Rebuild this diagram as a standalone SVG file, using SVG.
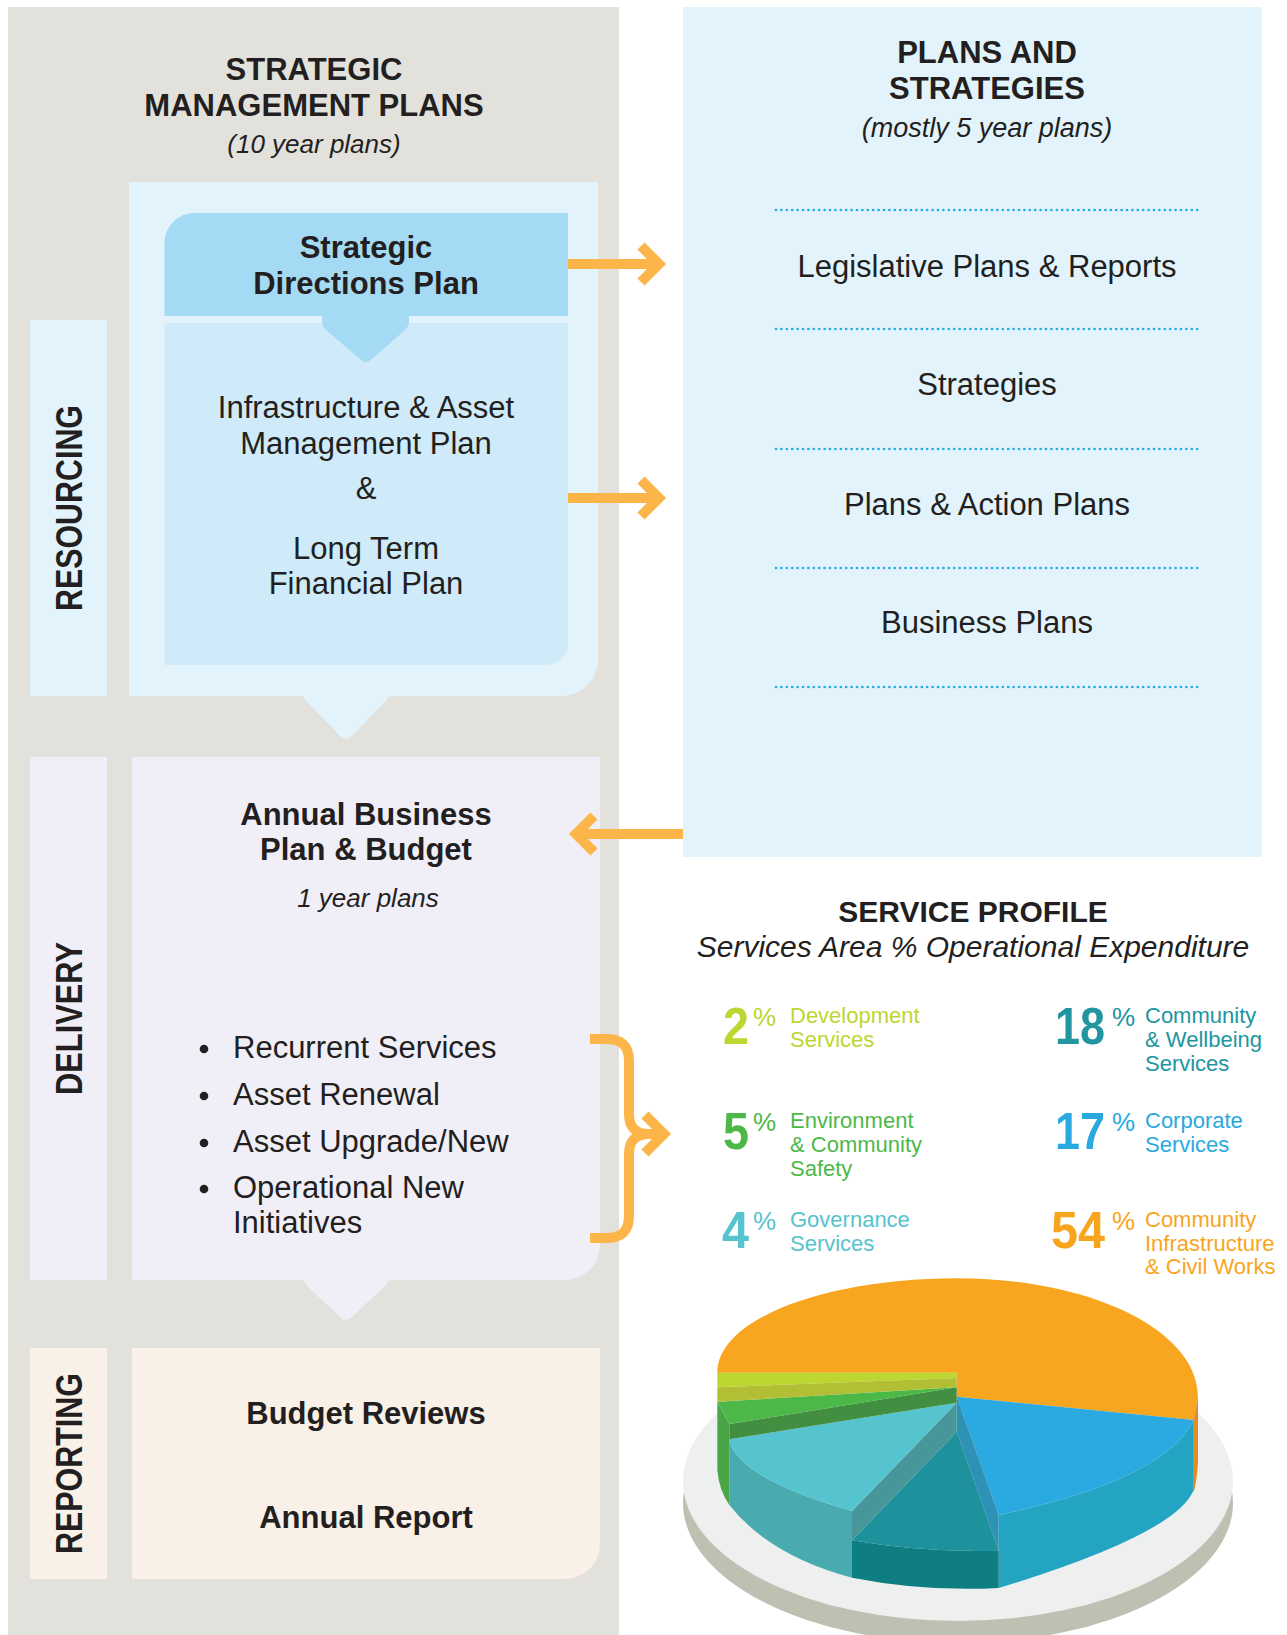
<svg xmlns="http://www.w3.org/2000/svg" width="1287" height="1635" viewBox="0 0 1287 1635">
<style>
.t{font-family:"Liberation Sans",Arial,sans-serif;fill:#231F20}
.b{font-weight:bold}
.i{font-style:italic}
.c{text-anchor:middle}
.h{font-size:31px}
.r{font-size:31px}
.s{font-size:26px}
.side{font-size:36px;font-weight:bold;text-anchor:middle}
.arrow{fill:none;stroke:#FBB548;stroke-width:10}
.chev{fill:none;stroke:#FBB548;stroke-width:10;stroke-linejoin:miter}
.dot{stroke:#1AACE4;stroke-width:2.6;stroke-linecap:round;stroke-dasharray:0 5.4}
.num{font-family:"Liberation Sans",Arial,sans-serif;font-weight:bold;font-size:52px}
.pc{font-family:"Liberation Sans",Arial,sans-serif;font-size:26px}
.lb{font-family:"Liberation Sans",Arial,sans-serif;font-size:22px}
</style>
<rect width="1287" height="1635" fill="#FFFFFF"/>

<g id="panel-strategic-management-plans">
<rect x="8" y="7" width="611" height="1628" fill="#E2E1DB"/>
<text class="t b c h" x="314" y="80">STRATEGIC</text>
<text class="t b c h" x="314" y="116">MANAGEMENT PLANS</text>
<text class="t i c s" x="314" y="153">(10 year plans)</text>
</g>

<g id="node-resourcing-label">
<rect x="30" y="320" width="77" height="376" fill="#E2F3FB"/>
<text class="t side" transform="translate(81.5,508) rotate(-90)" textLength="206" lengthAdjust="spacingAndGlyphs">RESOURCING</text>
</g>

<g id="node-resourcing">
<path d="M129,182 H598 V660 A36,36 0 0 1 562,696 H129 Z" fill="#E2F3FB"/>
<path d="M300,696 C304,696 305,699 307,702 L340,736 Q346,742 352,736 L385,702 C387,699 388,696 392,696 Z" fill="#E2F3FB"/>
</g>

<g id="node-ltfp">
<path d="M164.5,323 H568 V643 A22,22 0 0 1 546,665 H164.5 Z" fill="#CFEAF8"/>
<text class="t c r" x="366" y="418">Infrastructure &amp; Asset</text>
<text class="t c r" x="366" y="454">Management Plan</text>
<text class="t c r" x="366" y="499">&amp;</text>
<text class="t c r" x="366" y="559">Long Term</text>
<text class="t c r" x="366" y="594">Financial Plan</text>
</g>

<g id="node-strategic-directions-plan">
<path d="M164.5,316 V243 A30,30 0 0 1 194.5,213 H568 V316 Z" fill="#A4DAF4"/>
<path d="M322,316 V321 Q322,326 326,330 L360,359 Q366,365 372,359 L405,330 Q409,326 409,321 V316 Z" fill="#A4DAF4"/>
<text class="t b c h" x="366" y="258">Strategic</text>
<text class="t b c h" x="366" y="294">Directions Plan</text>
</g>

<g id="node-delivery-label">
<rect x="30" y="757" width="77" height="523" fill="#F0EEF6"/>
<text class="t side" transform="translate(81.5,1018.5) rotate(-90)" textLength="153" lengthAdjust="spacingAndGlyphs">DELIVERY</text>
</g>

<g id="node-annual-business-plan">
<path d="M132,757 H600 V1245 A35,35 0 0 1 565,1280 H132 Z" fill="#F0EEF6"/>
<path d="M300,1280 C304,1280 305,1283 307,1286 L340,1317 Q346,1323 352,1317 L385,1286 C387,1283 388,1280 392,1280 Z" fill="#F0EEF6"/>
<text class="t b c h" x="366" y="825">Annual Business</text>
<text class="t b c h" x="366" y="860">Plan &amp; Budget</text>
<text class="t i c s" x="368" y="907">1 year plans</text>
<g fill="#231F20">
<circle cx="204" cy="1049" r="4.3"/>
<circle cx="204" cy="1096" r="4.3"/>
<circle cx="204" cy="1143" r="4.3"/>
<circle cx="204" cy="1189" r="4.3"/>
</g>
<text class="t r" x="233" y="1058">Recurrent Services</text>
<text class="t r" x="233" y="1105">Asset Renewal</text>
<text class="t r" x="233" y="1152">Asset Upgrade/New</text>
<text class="t r" x="233" y="1198">Operational New</text>
<text class="t r" x="233" y="1233">Initiatives</text>
</g>

<g id="node-reporting-label">
<rect x="30" y="1348" width="77" height="231" fill="#F9F0E7"/>
<text class="t side" transform="translate(81.5,1463.5) rotate(-90)" textLength="181" lengthAdjust="spacingAndGlyphs">REPORTING</text>
</g>

<g id="node-reporting">
<path d="M132,1348 H600 V1544 A35,35 0 0 1 565,1579 H132 Z" fill="#F9F0E7"/>
<text class="t b c h" x="366" y="1424">Budget Reviews</text>
<text class="t b c h" x="366" y="1528">Annual Report</text>
</g>

<g id="node-plans-and-strategies">
<rect x="683" y="7" width="579" height="850" fill="#E2F3FB"/>
<text class="t b c h" x="987" y="63">PLANS AND</text>
<text class="t b c h" x="987" y="99">STRATEGIES</text>
<text class="t i c" x="987" y="137" style="font-size:27px">(mostly 5 year plans)</text>
<line class="dot" x1="776" y1="210" x2="1201" y2="210"/>
<line class="dot" x1="776" y1="329" x2="1201" y2="329"/>
<line class="dot" x1="776" y1="449" x2="1201" y2="449"/>
<line class="dot" x1="776" y1="568" x2="1201" y2="568"/>
<line class="dot" x1="776" y1="687" x2="1201" y2="687"/>
<text class="t c r" x="987" y="277">Legislative Plans &amp; Reports</text>
<text class="t c r" x="987" y="395">Strategies</text>
<text class="t c r" x="987" y="515">Plans &amp; Action Plans</text>
<text class="t c r" x="987" y="633">Business Plans</text>
</g>

<g id="node-service-profile">
<text class="t b c" x="973" y="922" style="font-size:30px">SERVICE PROFILE</text>
<text class="t i c" x="973" y="957" style="font-size:30px">Services Area % Operational Expenditure</text>
<g fill="#BDD631">
<text class="num" x="723" y="1044" textLength="26" lengthAdjust="spacingAndGlyphs">2</text>
<text class="pc" x="753" y="1026">%</text>
<text class="lb" x="790" y="1023">Development</text>
<text class="lb" x="790" y="1047">Services</text>
</g>
<g fill="#4DB848">
<text class="num" x="723" y="1149" textLength="26" lengthAdjust="spacingAndGlyphs">5</text>
<text class="pc" x="753" y="1131">%</text>
<text class="lb" x="790" y="1128">Environment</text>
<text class="lb" x="790" y="1152">&amp; Community</text>
<text class="lb" x="790" y="1176">Safety</text>
</g>
<g fill="#56C3CE">
<text class="num" x="722" y="1248" textLength="27" lengthAdjust="spacingAndGlyphs">4</text>
<text class="pc" x="753" y="1230">%</text>
<text class="lb" x="790" y="1227">Governance</text>
<text class="lb" x="790" y="1251">Services</text>
</g>
<g fill="#2196A0">
<text class="num" x="1055" y="1044" textLength="50" lengthAdjust="spacingAndGlyphs">18</text>
<text class="pc" x="1112" y="1026">%</text>
<text class="lb" x="1145" y="1023">Community</text>
<text class="lb" x="1145" y="1047">&amp; Wellbeing</text>
<text class="lb" x="1145" y="1071">Services</text>
</g>
<g fill="#29A9E0">
<text class="num" x="1055" y="1149" textLength="50" lengthAdjust="spacingAndGlyphs">17</text>
<text class="pc" x="1112" y="1131">%</text>
<text class="lb" x="1145" y="1128">Corporate</text>
<text class="lb" x="1145" y="1152">Services</text>
</g>
<g fill="#F8A51E">
<text class="num" x="1051" y="1248" textLength="54" lengthAdjust="spacingAndGlyphs">54</text>
<text class="pc" x="1112" y="1230">%</text>
<text class="lb" x="1145" y="1227">Community</text>
<text class="lb" x="1145" y="1251">Infrastructure</text>
<text class="lb" x="1145" y="1274">&amp; Civil Works</text>
</g>
</g>

<g id="pie-chart">
<ellipse cx="958" cy="1503" rx="275" ry="140" fill="#BFC0B2"/>
<ellipse cx="958" cy="1481" rx="275" ry="140" fill="#EEF0EF"/>
<path d="M717.3,1372.7 C717.3,1318 828,1278.3 957,1278.3 C1090,1278.3 1198,1330 1198,1397 L1193.7,1420 L956.7,1396.7 L956.7,1372.7 Z" fill="#F8A61F"/>
<path d="M1193.7,1420 L1198,1397 L1198,1462 Q1197,1480 1193.7,1493 Z" fill="#DE8E28"/>
<path d="M1193.7,1420 L1193.7,1490 Q1176,1534 998.7,1588 L998.7,1515 Q1165,1480 1193.7,1420 Z" fill="#23A4C2"/>
<path d="M956.7,1396.7 L1193.7,1420 Q1165,1480 998.7,1515 Z" fill="#2BA9E1"/>
<path d="M956.7,1396.7 L998.7,1515 L998.7,1550.7 L956.7,1431.7 Z" fill="#2E92B6"/>
<path d="M852,1540.3 L852,1577.7 Q925,1592 998.7,1588 L998.7,1550.7 Q925,1553 852,1540.3 Z" fill="#0E7E82"/>
<path d="M956.7,1431.7 L852,1540.3 Q925,1553 998.7,1550.7 Z" fill="#1D919C"/>
<path d="M956.7,1402.7 L852,1511 L852,1540.3 L956.7,1431.7 Z" fill="#47979A"/>
<path d="M729.3,1439.3 L729.3,1505 Q770,1556 852,1577.7 L852,1511 Q737,1478 729.3,1439.3 Z" fill="#49AAAF"/>
<path d="M956.7,1402.7 L729.3,1439.3 Q737,1478 852,1511 Z" fill="#56C4CE"/>
<path d="M717.3,1401.7 L729.3,1424 L729.3,1505 Q719,1490 717.3,1470 Z" fill="#4AA547"/>
<path d="M729.3,1424 L956.7,1387.3 L956.7,1402.7 L729.3,1439.3 Z" fill="#438F42"/>
<path d="M717.3,1401.7 L956.7,1387.3 L729.3,1424 Z" fill="#4BB848"/>
<path d="M717.3,1387.3 L956.7,1378 L956.7,1387.3 L717.3,1401.7 Z" fill="#B2BF35"/>
<path d="M717.3,1372.7 L956.7,1372.7 L956.7,1378 L717.3,1387.3 Z" fill="#BDD631"/>
</g>

<g id="connectors">
<line class="arrow" x1="568" y1="264" x2="656" y2="264"/>
<polyline class="chev" points="641,246 659,264 641,282"/>
<line class="arrow" x1="568" y1="498" x2="656" y2="498"/>
<polyline class="chev" points="641,480 659,498 641,516"/>
<line class="arrow" x1="683" y1="834" x2="580" y2="834"/>
<polyline class="chev" points="594,816 576,834 594,852"/>
<path class="arrow" d="M590,1039 H607 Q629,1039 629,1061 V1114 Q629,1134 649,1134 H660 M590,1238 H607 Q629,1238 629,1216 V1154 Q629,1134 649,1134"/>
<polyline class="chev" points="645,1115 664,1134 645,1153"/>
</g>
</svg>
